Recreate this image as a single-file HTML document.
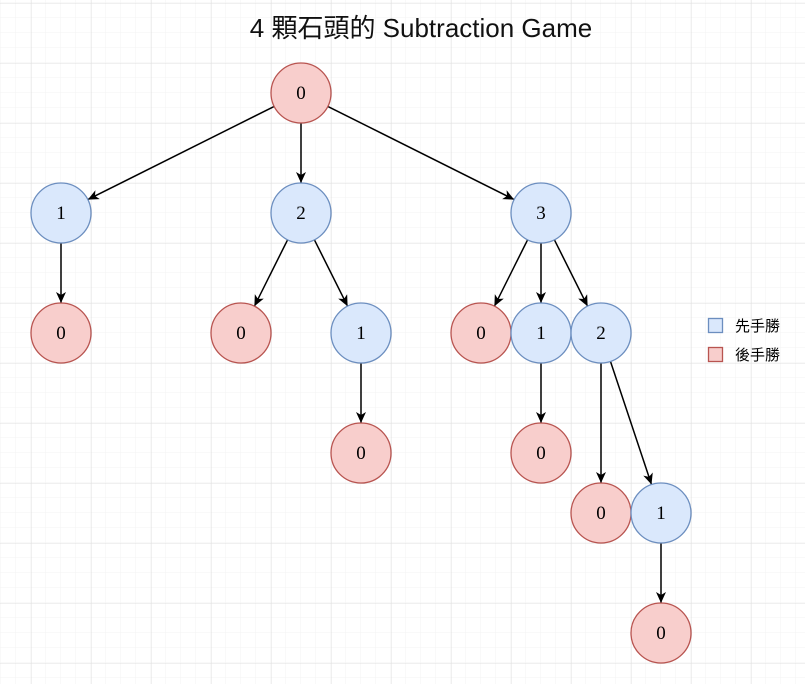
<!DOCTYPE html>
<html><head><meta charset="utf-8"><style>
html,body{margin:0;padding:0;background:#fff;}
body{width:805px;height:684px;overflow:hidden;}
</style></head><body>
<svg width="805" height="684" xmlns="http://www.w3.org/2000/svg">
<defs>
<pattern id="minor" x="1" y="3" width="15" height="15" patternUnits="userSpaceOnUse">
<path d="M15 0V15M0 15H15" fill="none" stroke="#f3f3f3" stroke-width="1"/>
</pattern>
<pattern id="major" x="31.5" y="3.5" width="60" height="60" patternUnits="userSpaceOnUse">
<path d="M0 0V60M0 0H60" fill="none" stroke="#e0e0e0" stroke-width="1"/>
</pattern>
<marker id="a" markerUnits="userSpaceOnUse" markerWidth="12" markerHeight="12" refX="11" refY="5" orient="auto">
<path d="M0,0 L11,5 L0,10 L3,5 Z" fill="#000"/>
</marker>
</defs>
<rect width="805" height="684" fill="url(#minor)"/>
<rect width="805" height="684" fill="url(#major)"/>
<text x="421" y="37" text-anchor="middle" font-family="Liberation Sans, Noto Sans CJK TC, sans-serif" font-size="26" fill="#111">4 顆石頭的 Subtraction Game</text>
<g stroke="#000" stroke-width="1.5" marker-end="url(#a)">
<line x1="274.2" y1="106.4" x2="87.8" y2="199.6"/>
<line x1="301" y1="123" x2="301" y2="183"/>
<line x1="327.8" y1="106.4" x2="514.2" y2="199.6"/>
<line x1="61" y1="243" x2="61" y2="303"/>
<line x1="287.6" y1="239.8" x2="254.4" y2="306.2"/>
<line x1="314.4" y1="239.8" x2="347.6" y2="306.2"/>
<line x1="361" y1="363" x2="361" y2="423"/>
<line x1="527.6" y1="239.8" x2="494.4" y2="306.2"/>
<line x1="541" y1="243" x2="541" y2="303"/>
<line x1="554.4" y1="239.8" x2="587.6" y2="306.2"/>
<line x1="541" y1="363" x2="541" y2="423"/>
<line x1="601" y1="363" x2="601" y2="483"/>
<line x1="610.5" y1="361.5" x2="651.5" y2="484.5"/>
<line x1="661" y1="543" x2="661" y2="603"/>
</g>
<g stroke-width="1.3" font-family="Liberation Serif, serif" font-size="19" text-anchor="middle">
<g fill="#f8cecc" stroke="#b85450">
<circle cx="301" cy="93" r="30"/>
<circle cx="61" cy="333" r="30"/>
<circle cx="241" cy="333" r="30"/>
<circle cx="481" cy="333" r="30"/>
<circle cx="361" cy="453" r="30"/>
<circle cx="541" cy="453" r="30"/>
<circle cx="601" cy="513" r="30"/>
<circle cx="661" cy="633" r="30"/>
</g>
<g fill="#dae8fc" stroke="#6c8ebf">
<circle cx="61" cy="213" r="30"/>
<circle cx="301" cy="213" r="30"/>
<circle cx="541" cy="213" r="30"/>
<circle cx="361" cy="333" r="30"/>
<circle cx="541" cy="333" r="30"/>
<circle cx="601" cy="333" r="30"/>
<circle cx="661" cy="513" r="30"/>
</g>
<g fill="#000">
<text x="301" y="99">0</text>
<text x="61" y="219">1</text>
<text x="301" y="219">2</text>
<text x="541" y="219">3</text>
<text x="61" y="339">0</text>
<text x="241" y="339">0</text>
<text x="361" y="339">1</text>
<text x="481" y="339">0</text>
<text x="541" y="339">1</text>
<text x="601" y="339">2</text>
<text x="361" y="459">0</text>
<text x="541" y="459">0</text>
<text x="601" y="519">0</text>
<text x="661" y="519">1</text>
<text x="661" y="639">0</text>
</g>
</g>
<rect x="708.5" y="318.5" width="14" height="14" fill="#dae8fc" stroke="#6c8ebf" stroke-width="1.3"/>
<rect x="708.5" y="347.5" width="14" height="14" fill="#f8cecc" stroke="#b85450" stroke-width="1.3"/>
<g font-family="Noto Sans CJK TC, sans-serif" font-size="15" fill="#000">
<text x="735" y="331">先手勝</text>
<text x="735" y="360">後手勝</text>
</g>
</svg>
</body></html>
